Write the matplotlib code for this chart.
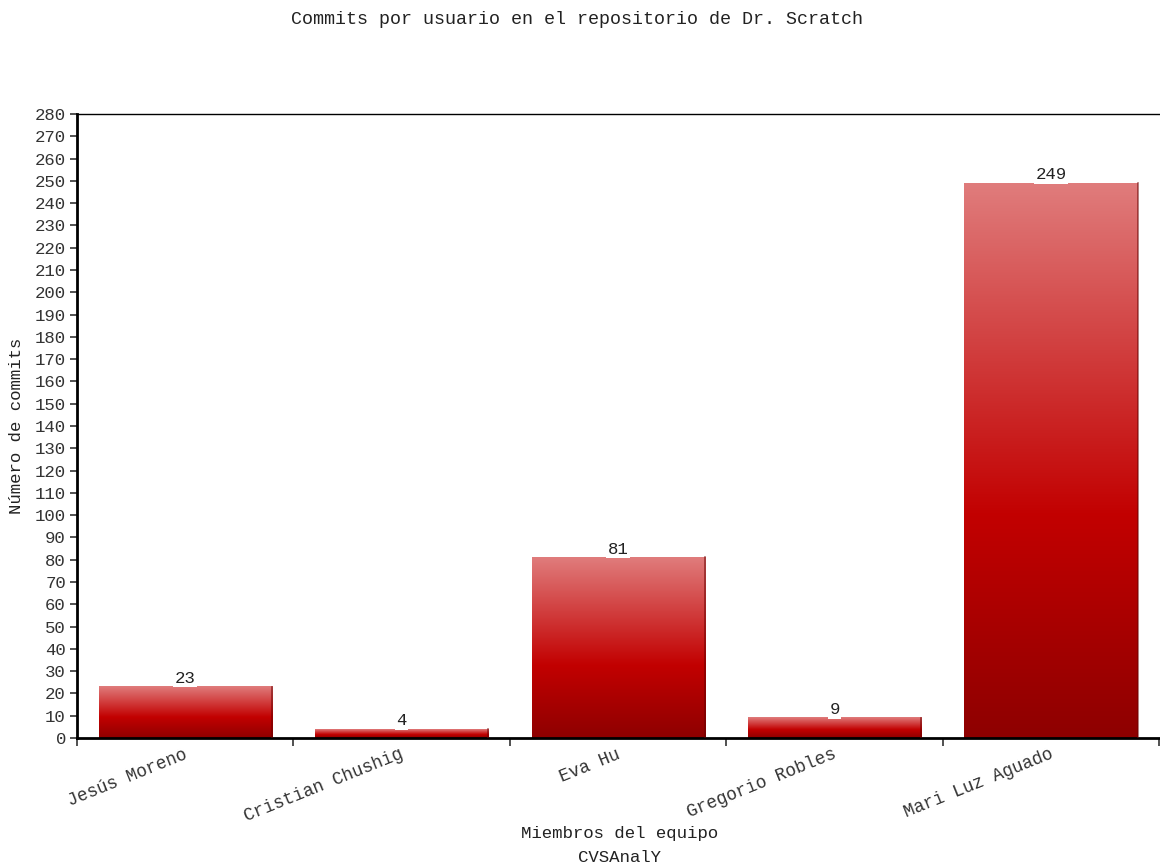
import numpy as np
import matplotlib.pyplot as plt
from matplotlib.colors import LinearSegmentedColormap

# Commits per team member
members = ['Jesús Moreno', 'Cristian Chushig', 'Eva Hu', 'Gregorio Robles', 'Mari Luz Aguado']
commits = [23, 4, 81, 9, 249]

plt.rcParams['font.family'] = ['Liberation Mono', 'DejaVu Sans Mono']

fig = plt.figure(figsize=(11.6, 8.66), dpi=100)
ax = fig.add_axes([0.0664, 0.1478, 0.933, 0.7206])

# top light -> bright red -> dark bottom
cmap = LinearSegmentedColormap.from_list(
    'bar', [(0.0, '#8e0000'), (0.4, '#c20000'), (1.0, '#e07c7c')])
grad = np.linspace(0, 1, 256).reshape(-1, 1)

width = 0.8
bars = ax.bar(range(len(members)), commits, width=width, color='none',
              edgecolor='none', zorder=2)
for b in bars:
    x0, h = b.get_x(), b.get_height()
    ax.imshow(grad, extent=[x0, x0 + width, 0, h], origin='lower', cmap=cmap,
              aspect='auto', zorder=2, interpolation='bilinear')
    # slight shading on the right edge
    ax.plot([x0 + width, x0 + width], [0, h], color='#6a0000', lw=1.2,
            alpha=0.6, zorder=3)
    ax.text(x0 + width / 2, h + 0.3, f'{int(h)}', ha='center', va='bottom',
            fontsize=12.5, color='#222222', zorder=4,
            bbox=dict(facecolor='white', edgecolor='none', pad=1.0))

ax.set_xlim(-0.5, len(members) - 0.5)
ax.set_ylim(0, 280)
ax.set_yticks(np.arange(0, 281, 10))
ax.set_xticks(np.arange(-0.5, len(members), 1.0))
ax.set_xticklabels([])
ax.tick_params(axis='x', length=6, width=1.2, color='#333333')
ax.tick_params(axis='y', length=5, width=1.2, labelsize=12.5, color='#333333',
               labelcolor='#333333', pad=3)

for i, name in enumerate(members):
    ax.text(i - 0.01, -3.5, name, rotation=22, rotation_mode='anchor',
            ha='right', va='top', fontsize=12.8, color='#333333')

ax.spines['left'].set_linewidth(2)
ax.spines['bottom'].set_linewidth(2)
ax.spines['top'].set_linewidth(1)
ax.spines['right'].set_visible(False)

fig.text(0.497, 0.977, 'Commits por usuario en el repositorio de Dr. Scratch',
         ha='center', va='center', fontsize=13.2, color='#222222')
ax.set_ylabel('Número de commits', fontsize=12.5, color='#222222', labelpad=8)
fig.text(0.534, 0.038, 'Miembros del equipo', ha='center', va='center',
         fontsize=12.5, color='#222222')
fig.text(0.534, 0.010, 'CVSAnalY', ha='center', va='center',
         fontsize=12.5, color='#222222')

fig.savefig('out.png', dpi=100)
